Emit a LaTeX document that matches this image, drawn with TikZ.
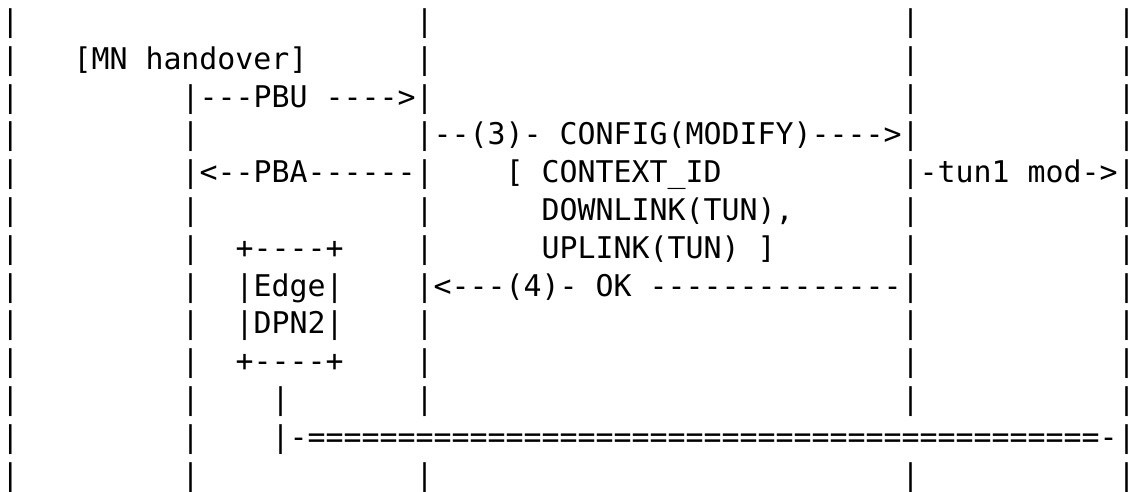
\documentclass[tikz,border=0pt]{standalone}
\usepackage{fontspec}
\setmonofont{DejaVu Sans Mono}
\begin{document}
\begin{tikzpicture}[x=7.2pt,y=-15.12pt,
    asc/.style={font=\ttfamily\fontsize{11.96}{15}\selectfont,inner sep=0pt,anchor=base west}]
    \useasboundingbox (-0.4pt,12.6pt) rectangle (450.8pt,-184.2pt);
    % lifelines (the tunnel row crosses the two middle ones)
    \foreach \c/\rows in {0/{0,...,12},10/{2,...,12},23/{0,...,10,12},50/{0,...,10,12},62/{0,...,12}}
        \foreach \r in \rows
            \node[asc] (bar-\c-\r) at (\c,\r) {|};
    \begin{scope}[every node/.style={asc}]
        \node (handover) at (4,1) {[MN handover]};
        \node (pbu) at (11,2) {---PBU ---->};
        \node (config) at (24,3) {--(3)- CONFIG(MODIFY)---->};
        \node (pba) at (11,4) {<--PBA------};
        \node (ctxid) at (28,4) {[ CONTEXT\_ID};
        \node (tunmod) at (51,4) {-tun1 mod->};
        \node (downlink) at (30,5) {DOWNLINK(TUN),};
        \node (uplink) at (30,6) {UPLINK(TUN) ]};
        \node (ok) at (24,7) {<---(4)- OK --------------};
        % Edge DPN2 box
        \node (boxtop) at (13,6) {+----+};
        \node (edge) at (13,7) {|Edge|};
        \node (dpn) at (13,8) {|DPN2|};
        \node (boxbot) at (13,9) {+----+};
        \node (stem) at (15,10) {|};
        \node (tunnel) at (15,11) {|-============================================-};
    \end{scope}
\end{tikzpicture}
\end{document}
